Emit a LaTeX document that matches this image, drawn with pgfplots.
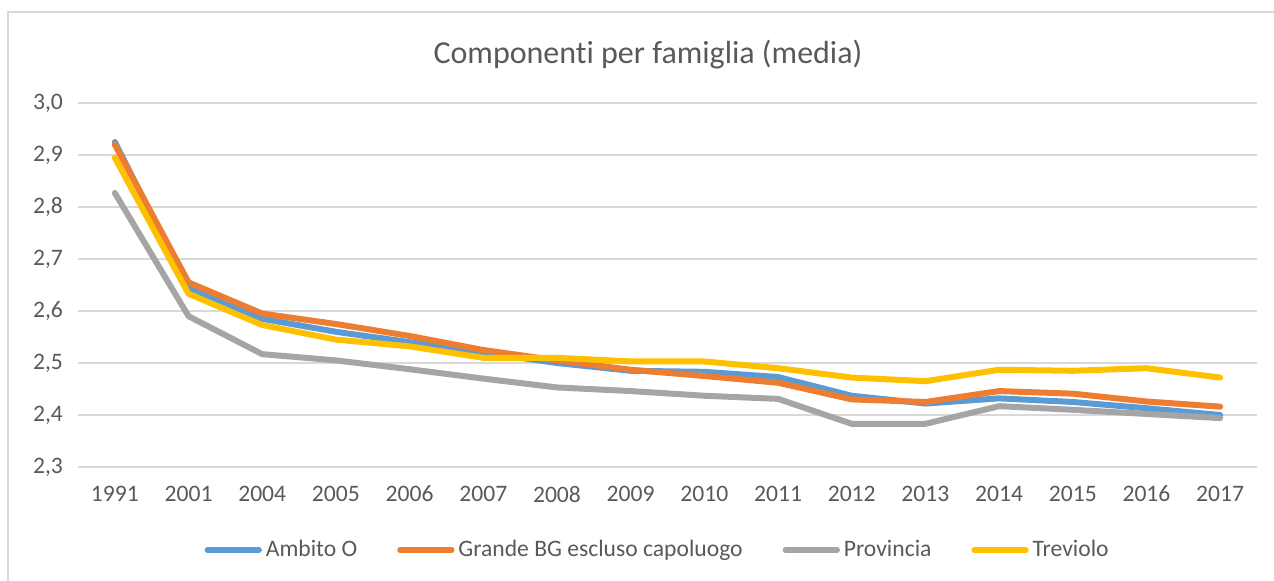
\documentclass[border=0pt]{standalone}
\usepackage{fontspec}
\setmainfont{Carlito}[Ligatures=NoCommon]
\usepackage{pgfplots}
\pgfplotsset{compat=1.18}
\definecolor{SerBlue}{HTML}{5B9BD5}
\definecolor{SerOrange}{HTML}{ED7D31}
\definecolor{SerGray}{HTML}{A5A5A5}
\definecolor{SerYellow}{HTML}{FFC000}
\definecolor{TxtGray}{HTML}{595959}
\definecolor{GridGray}{HTML}{D9D9D9}

\begin{document}
\begin{tikzpicture}
% image area 1274x581 px at 0.5pt per px, axis lower-left at origin
\useasboundingbox (-39pt,-57pt) rectangle (598pt,233.5pt);
\draw[GridGray, line width=0.8pt] (-35pt,-60pt) -- (-35pt,227.5pt) -- (610pt,227.5pt);
\begin{axis}[
    at={(0,0)}, anchor=south west,
    scale only axis,
    width=589.5pt, height=182pt,
    xmin=-0.5, xmax=15.5,
    ymin=2.3, ymax=3.0,
    xtick={0,...,15},
    xticklabels={1991,2001,2004,2005,2006,2007,2008,2009,2010,2011,2012,2013,2014,2015,2016,2017},
    ytick={2.3,2.4,...,3.01},
    ymajorgrids,
    grid style={draw=GridGray, line width=0.9pt},
    axis line style={draw=none},
    major tick length=0pt,
    tick label style={font=\fontsize{11.8}{14}\selectfont, text=TxtGray},
    xticklabel style={yshift=-6pt},
    yticklabel style={xshift=-4pt},
    /pgf/number format/use comma,
    /pgf/number format/fixed,
    /pgf/number format/fixed zerofill,
    /pgf/number format/precision=1,
    /pgf/number format/assume math mode=true,
    legend columns=-1,
    legend style={draw=none, fill=none, at={(0.4925,-0.228)}, anchor=center,
        font=\fontsize{11.8}{14}\selectfont, text=TxtGray,
        /tikz/every even column/.append style={column sep=18pt}},
    legend image code/.code={\draw[#1, line cap=round, line width=2.6pt] (0pt,0pt) -- (26pt,0pt);},
    every axis plot/.append style={line cap=round, line join=round},
    clip=false,
]
\addplot[SerBlue, line width=3pt] coordinates {
    (0,2.925) (1,2.644) (2,2.585) (3,2.560) (4,2.540) (5,2.520) (6,2.500) (7,2.485)
    (8,2.483) (9,2.473) (10,2.437) (11,2.422) (12,2.432) (13,2.425) (14,2.413) (15,2.400)
};
\addlegendentry{Ambito O}
\addplot[SerOrange, line width=3pt] coordinates {
    (0,2.920) (1,2.655) (2,2.595) (3,2.575) (4,2.552) (5,2.525) (6,2.505) (7,2.487)
    (8,2.475) (9,2.462) (10,2.430) (11,2.425) (12,2.446) (13,2.441) (14,2.426) (15,2.416)
};
\addlegendentry{Grande BG escluso capoluogo}
\addplot[SerGray, line width=3pt] coordinates {
    (0,2.827) (1,2.590) (2,2.517) (3,2.505) (4,2.488) (5,2.470) (6,2.453) (7,2.446)
    (8,2.437) (9,2.431) (10,2.383) (11,2.383) (12,2.417) (13,2.410) (14,2.402) (15,2.394)
};
\addlegendentry{Provincia}
\addplot[SerYellow, line width=3pt] coordinates {
    (0,2.895) (1,2.633) (2,2.573) (3,2.545) (4,2.532) (5,2.510) (6,2.510) (7,2.503)
    (8,2.503) (9,2.490) (10,2.472) (11,2.465) (12,2.487) (13,2.485) (14,2.490) (15,2.472)
};
\addlegendentry{Treviolo}
\end{axis}
\node[text=TxtGray, font=\fontsize{16}{19}\selectfont] at (285pt,206pt) {Componenti per famiglia (media)};
\end{tikzpicture}
\end{document}
